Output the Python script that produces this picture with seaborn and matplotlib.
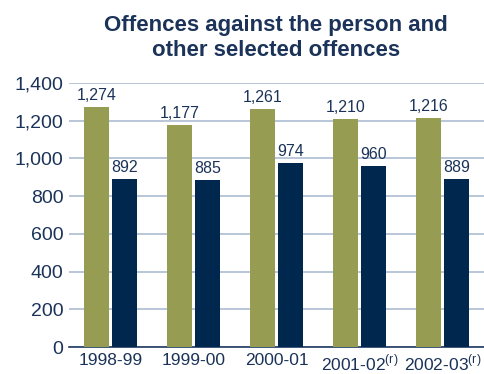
import pandas as pd
import matplotlib
matplotlib.use('Agg')
import matplotlib.pyplot as plt
import seaborn as sns

years = ['1998-99', '1999-00', '2000-01', '2001-02', '2002-03']
tick_labels = ['1998-99', '1999-00', '2000-01', '2001-02$^{\\mathregular{(r)}}$', '2002-03$^{\\mathregular{(r)}}$']
series_a = [1274, 1177, 1261, 1210, 1216]
series_b = [892, 885, 974, 960, 889]

df = pd.DataFrame({
    'Year': years * 2,
    'Series': ['a'] * 5 + ['b'] * 5,
    'Value': series_a + series_b,
})

navy_text = '#1b3358'
sns.set_style('white')
plt.rcParams['font.family'] = ['Liberation Sans', 'DejaVu Sans']

fig = plt.figure(figsize=(4.84, 3.74), dpi=100)
ax = fig.add_axes([0.1426, 0.072, 0.8574, 0.706])

sns.barplot(data=df, x='Year', y='Value', hue='Series',
            palette={'a': '#969c52', 'b': '#00284f'}, saturation=1,
            width=0.675, gap=0.11, linewidth=0, ax=ax, legend=False, zorder=3)

ax.set_ylim(0, 1400)
ax.set_xlim(-0.5, 4.5)
ax.set_yticks(range(0, 1401, 200))
ax.set_yticklabels([f'{v:,}' for v in range(0, 1401, 200)], fontsize=14, color=navy_text)
ax.set_xticks(range(5))
ax.set_xticklabels(tick_labels, fontsize=12.5, color=navy_text, family=['Liberation Sans Narrow', 'Liberation Sans'])
ax.tick_params(axis='both', length=0, pad=4)
ax.yaxis.grid(True, color='#b3c1d4', linewidth=1.3, zorder=0)
ax.set_axisbelow(True)
for s in ['top', 'right', 'left']:
    ax.spines[s].set_visible(False)
ax.spines['bottom'].set_color('#1f3a60')
ax.spines['bottom'].set_linewidth(1.2)
ax.set_xlabel('')
ax.set_ylabel('')

for p in ax.patches:
    h = p.get_height()
    if h > 0:
        ax.annotate(f'{int(h):,}', (p.get_x() + p.get_width() / 2, h),
                    ha='center', va='bottom', xytext=(0, 3), textcoords='offset points',
                    fontsize=11.5, color=navy_text)

# title, centred over the plot area, one text per line
fig.text(0.571, 1 - 31 / 374, 'Offences against the person and',
         ha='center', va='baseline', fontsize=16, fontweight='bold', color=navy_text)
fig.text(0.571, 1 - 56.5 / 374, 'other selected offences',
         ha='center', va='baseline', fontsize=16, fontweight='bold', color=navy_text)

fig.savefig('out.png', dpi=100)
